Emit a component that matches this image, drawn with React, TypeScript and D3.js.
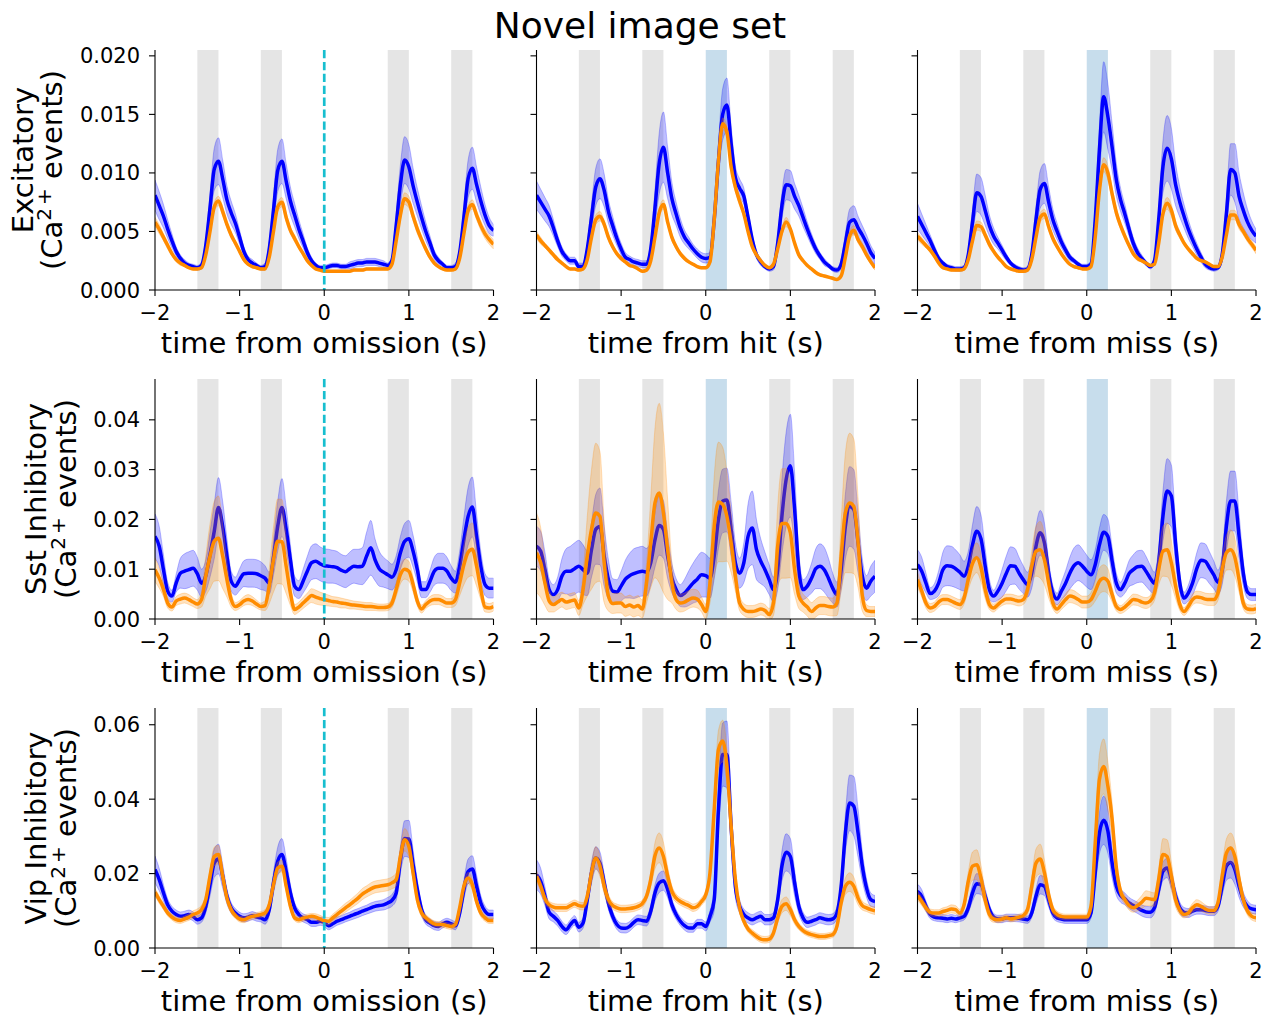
import React from 'react';
import * as d3 from 'd3';

// ---------- shared axes data ----------
const TIME: number[] = d3.range(81).map((i) => -2 + i * 0.05);
const X_TICKS = [-2, -1, 0, 1, 2];
const FLASH_STARTS = [-1.5, -0.75, 0.75, 1.5];
const CHANGE_WINDOW = [0, 0.25];
const ROW_LABELS = ['Excitatory', 'Sst Inhibitory', 'Vip Inhibitory'];
const COL_LABELS = ['time from omission (s)', 'time from hit (s)', 'time from miss (s)'];
const Y_TICKS = [
  [0, 0.005, 0.01, 0.015, 0.02],
  [0, 0.01, 0.02, 0.03, 0.04],
  [0, 0.02, 0.04, 0.06],
];
const Y_DECIMALS = [3, 2, 2];
const Y_MAX = [0.0205, 0.0482, 0.0645];
const TITLE = 'Novel image set';

// ---------- Excitatory ----------
const EXC_OMI_B = [
  0.0081, 0.0072, 0.0063, 0.0052, 0.0042, 0.0033, 0.0027, 0.0023, 0.0021, 0.0020,
  0.0019, 0.0021, 0.0038, 0.0070, 0.0103, 0.0110, 0.0095, 0.0077, 0.0066, 0.0057,
  0.0045, 0.0033, 0.0026, 0.0023, 0.0021, 0.0019, 0.0020, 0.0035, 0.0068, 0.0102,
  0.0110, 0.0093, 0.0076, 0.0064, 0.0052, 0.0042, 0.0032, 0.0025, 0.0021, 0.0019,
  0.0019, 0.0020, 0.0021, 0.0021, 0.0020, 0.0020, 0.0021, 0.0022, 0.0023, 0.0023,
  0.0024, 0.0024, 0.0024, 0.0023, 0.0022, 0.0021, 0.0025, 0.0055, 0.0090, 0.0111,
  0.0105, 0.0089, 0.0075, 0.0062, 0.0050, 0.0040, 0.0030, 0.0025, 0.0022, 0.0019,
  0.0019, 0.0020, 0.0032, 0.0062, 0.0095, 0.0104, 0.0090, 0.0076, 0.0064, 0.0055,
  0.0051,
];
const EXC_OMI_B_SEM = [
  0.0013, 0.0012, 0.0010, 0.0008, 0.0006, 0.0004, 0.0003, 0.0003, 0.0002, 0.0002,
  0.0002, 0.0003, 0.0006, 0.0012, 0.0018, 0.0020, 0.0016, 0.0012, 0.0010, 0.0008,
  0.0006, 0.0004, 0.0003, 0.0003, 0.0002, 0.0002, 0.0003, 0.0006, 0.0012, 0.0018,
  0.0019, 0.0015, 0.0012, 0.0010, 0.0008, 0.0006, 0.0004, 0.0003, 0.0002, 0.0002,
  0.0002, 0.0002, 0.0002, 0.0002, 0.0002, 0.0002, 0.0003, 0.0003, 0.0003, 0.0003,
  0.0003, 0.0003, 0.0003, 0.0003, 0.0003, 0.0002, 0.0004, 0.0010, 0.0017, 0.0020,
  0.0019, 0.0015, 0.0012, 0.0010, 0.0008, 0.0006, 0.0004, 0.0003, 0.0002, 0.0002,
  0.0002, 0.0003, 0.0005, 0.0010, 0.0016, 0.0018, 0.0015, 0.0012, 0.0009, 0.0007,
  0.0005,
];
const EXC_OMI_O = [
  0.0058, 0.0052, 0.0045, 0.0038, 0.0031, 0.0026, 0.0023, 0.0021, 0.0019, 0.0018,
  0.0018, 0.0019, 0.0030, 0.0050, 0.0071, 0.0076, 0.0067, 0.0056, 0.0047, 0.0040,
  0.0033, 0.0026, 0.0022, 0.0020, 0.0019, 0.0018, 0.0018, 0.0028, 0.0050, 0.0071,
  0.0075, 0.0062, 0.0051, 0.0044, 0.0037, 0.0031, 0.0025, 0.0021, 0.0018, 0.0017,
  0.0016, 0.0016, 0.0016, 0.0016, 0.0016, 0.0016, 0.0016, 0.0017, 0.0017, 0.0017,
  0.0018, 0.0018, 0.0018, 0.0018, 0.0018, 0.0018, 0.0022, 0.0042, 0.0064, 0.0078,
  0.0075, 0.0063, 0.0052, 0.0043, 0.0035, 0.0028, 0.0023, 0.0020, 0.0018, 0.0017,
  0.0017, 0.0018, 0.0027, 0.0048, 0.0068, 0.0073, 0.0064, 0.0055, 0.0048, 0.0043,
  0.0039,
];
const EXC_OMI_O_SEM = [
  0.0004, 0.0004, 0.0003, 0.0003, 0.0002, 0.0002, 0.0002, 0.0001, 0.0001, 0.0001,
  0.0001, 0.0001, 0.0002, 0.0003, 0.0004, 0.0004, 0.0004, 0.0003, 0.0003, 0.0002,
  0.0002, 0.0002, 0.0001, 0.0001, 0.0001, 0.0001, 0.0001, 0.0002, 0.0003, 0.0004,
  0.0004, 0.0004, 0.0003, 0.0003, 0.0002, 0.0002, 0.0002, 0.0001, 0.0001, 0.0001,
  0.0001, 0.0001, 0.0001, 0.0001, 0.0001, 0.0001, 0.0001, 0.0001, 0.0001, 0.0001,
  0.0001, 0.0001, 0.0001, 0.0001, 0.0001, 0.0001, 0.0002, 0.0003, 0.0004, 0.0005,
  0.0005, 0.0004, 0.0004, 0.0003, 0.0003, 0.0002, 0.0002, 0.0001, 0.0001, 0.0001,
  0.0001, 0.0001, 0.0002, 0.0003, 0.0004, 0.0004, 0.0004, 0.0004, 0.0004, 0.0004,
  0.0004,
];
const EXC_HIT_B = [
  0.0081, 0.0075, 0.0069, 0.0063, 0.0053, 0.0042, 0.0033, 0.0028, 0.0025, 0.0025,
  0.0020, 0.0020, 0.0035, 0.0062, 0.0088, 0.0095, 0.0085, 0.0067, 0.0055, 0.0044,
  0.0035, 0.0028, 0.0026, 0.0024, 0.0023, 0.0022, 0.0022, 0.0035, 0.0070, 0.0108,
  0.0122, 0.0100, 0.0078, 0.0065, 0.0053, 0.0045, 0.0040, 0.0035, 0.0031, 0.0028,
  0.0027, 0.0028, 0.0060, 0.0110, 0.0150, 0.0158, 0.0125, 0.0096, 0.0087, 0.0080,
  0.0062, 0.0043, 0.0030, 0.0024, 0.0020, 0.0018, 0.0020, 0.0040, 0.0072, 0.0090,
  0.0089, 0.0080, 0.0072, 0.0062, 0.0052, 0.0043, 0.0035, 0.0029, 0.0024, 0.0021,
  0.0018, 0.0017, 0.0022, 0.0040, 0.0058, 0.0060, 0.0053, 0.0047, 0.0040, 0.0032,
  0.0027,
];
const EXC_HIT_B_SEM = [
  0.0012, 0.0011, 0.0010, 0.0009, 0.0007, 0.0005, 0.0004, 0.0003, 0.0003, 0.0003,
  0.0003, 0.0003, 0.0006, 0.0011, 0.0016, 0.0017, 0.0014, 0.0010, 0.0008, 0.0006,
  0.0005, 0.0004, 0.0003, 0.0003, 0.0003, 0.0003, 0.0003, 0.0006, 0.0015, 0.0026,
  0.0030, 0.0022, 0.0014, 0.0010, 0.0008, 0.0006, 0.0005, 0.0004, 0.0004, 0.0004,
  0.0004, 0.0004, 0.0008, 0.0015, 0.0022, 0.0023, 0.0015, 0.0010, 0.0008, 0.0007,
  0.0005, 0.0004, 0.0003, 0.0003, 0.0002, 0.0002, 0.0003, 0.0006, 0.0011, 0.0013,
  0.0013, 0.0011, 0.0009, 0.0008, 0.0006, 0.0005, 0.0004, 0.0003, 0.0003, 0.0002,
  0.0002, 0.0002, 0.0004, 0.0008, 0.0011, 0.0012, 0.0010, 0.0008, 0.0007, 0.0006,
  0.0005,
];
const EXC_HIT_O = [
  0.0047, 0.0042, 0.0038, 0.0034, 0.0030, 0.0026, 0.0023, 0.0020, 0.0018, 0.0018,
  0.0017, 0.0018, 0.0026, 0.0045, 0.0060, 0.0063, 0.0056, 0.0045, 0.0037, 0.0031,
  0.0027, 0.0024, 0.0021, 0.0020, 0.0018, 0.0016, 0.0017, 0.0025, 0.0045, 0.0066,
  0.0073, 0.0058, 0.0045, 0.0037, 0.0031, 0.0027, 0.0024, 0.0022, 0.0020, 0.0019,
  0.0019, 0.0024, 0.0060, 0.0110, 0.0142, 0.0135, 0.0105, 0.0088, 0.0076, 0.0065,
  0.0050, 0.0037, 0.0030, 0.0025, 0.0021, 0.0019, 0.0022, 0.0035, 0.0050, 0.0058,
  0.0052, 0.0040, 0.0030, 0.0025, 0.0021, 0.0018, 0.0015, 0.0013, 0.0012, 0.0011,
  0.0010, 0.0009, 0.0012, 0.0028, 0.0046, 0.0051, 0.0043, 0.0037, 0.0030, 0.0024,
  0.0019,
];
const EXC_HIT_O_SEM = [
  0.0003, 0.0003, 0.0002, 0.0002, 0.0002, 0.0002, 0.0001, 0.0001, 0.0001, 0.0001,
  0.0001, 0.0001, 0.0002, 0.0003, 0.0004, 0.0004, 0.0003, 0.0003, 0.0002, 0.0002,
  0.0002, 0.0001, 0.0001, 0.0001, 0.0001, 0.0001, 0.0001, 0.0002, 0.0003, 0.0004,
  0.0004, 0.0003, 0.0003, 0.0002, 0.0002, 0.0002, 0.0001, 0.0001, 0.0001, 0.0001,
  0.0001, 0.0002, 0.0003, 0.0004, 0.0005, 0.0005, 0.0005, 0.0004, 0.0004, 0.0003,
  0.0003, 0.0002, 0.0002, 0.0001, 0.0001, 0.0001, 0.0001, 0.0002, 0.0003, 0.0004,
  0.0003, 0.0002, 0.0002, 0.0001, 0.0001, 0.0001, 0.0001, 0.0001, 0.0001, 0.0001,
  0.0001, 0.0001, 0.0002, 0.0003, 0.0004, 0.0004, 0.0003, 0.0003, 0.0002, 0.0002,
  0.0002,
];
const EXC_MISS_B = [
  0.0063, 0.0056, 0.0049, 0.0042, 0.0034, 0.0027, 0.0023, 0.0020, 0.0019, 0.0018,
  0.0018, 0.0019, 0.0030, 0.0058, 0.0083, 0.0080, 0.0068, 0.0055, 0.0046, 0.0040,
  0.0034, 0.0028, 0.0023, 0.0020, 0.0018, 0.0017, 0.0018, 0.0030, 0.0060, 0.0086,
  0.0091, 0.0075, 0.0060, 0.0050, 0.0041, 0.0034, 0.0028, 0.0025, 0.0022, 0.0020,
  0.0020, 0.0022, 0.0060, 0.0120, 0.0165, 0.0148, 0.0122, 0.0094, 0.0077, 0.0065,
  0.0052, 0.0040, 0.0032, 0.0027, 0.0023, 0.0020, 0.0025, 0.0060, 0.0105, 0.0121,
  0.0112, 0.0090, 0.0075, 0.0063, 0.0052, 0.0043, 0.0035, 0.0028, 0.0022, 0.0019,
  0.0018, 0.0019, 0.0030, 0.0065, 0.0103, 0.0100, 0.0080, 0.0068, 0.0058, 0.0051,
  0.0046,
];
const EXC_MISS_B_SEM = [
  0.0011, 0.0009, 0.0007, 0.0005, 0.0004, 0.0003, 0.0002, 0.0002, 0.0002, 0.0002,
  0.0002, 0.0002, 0.0005, 0.0011, 0.0016, 0.0016, 0.0013, 0.0009, 0.0007, 0.0005,
  0.0004, 0.0003, 0.0002, 0.0002, 0.0002, 0.0002, 0.0002, 0.0005, 0.0011, 0.0016,
  0.0017, 0.0013, 0.0009, 0.0007, 0.0005, 0.0004, 0.0003, 0.0002, 0.0002, 0.0002,
  0.0002, 0.0003, 0.0010, 0.0020, 0.0030, 0.0028, 0.0020, 0.0014, 0.0010, 0.0008,
  0.0006, 0.0005, 0.0004, 0.0003, 0.0002, 0.0002, 0.0003, 0.0010, 0.0022, 0.0028,
  0.0026, 0.0018, 0.0013, 0.0010, 0.0008, 0.0006, 0.0005, 0.0004, 0.0003, 0.0002,
  0.0002, 0.0002, 0.0005, 0.0012, 0.0022, 0.0025, 0.0020, 0.0015, 0.0011, 0.0008,
  0.0006,
];
const EXC_MISS_O = [
  0.0046, 0.0042, 0.0038, 0.0034, 0.0029, 0.0023, 0.0019, 0.0018, 0.0017, 0.0017,
  0.0017, 0.0018, 0.0026, 0.0042, 0.0055, 0.0054, 0.0047, 0.0039, 0.0033, 0.0028,
  0.0024, 0.0020, 0.0018, 0.0017, 0.0016, 0.0016, 0.0017, 0.0026, 0.0045, 0.0062,
  0.0065, 0.0054, 0.0044, 0.0037, 0.0031, 0.0026, 0.0022, 0.0020, 0.0019, 0.0018,
  0.0018, 0.0020, 0.0045, 0.0085, 0.0107, 0.0100, 0.0082, 0.0066, 0.0055, 0.0046,
  0.0038, 0.0031, 0.0027, 0.0025, 0.0023, 0.0021, 0.0022, 0.0040, 0.0065, 0.0074,
  0.0068, 0.0055, 0.0047, 0.0040, 0.0035, 0.0031, 0.0027, 0.0025, 0.0024, 0.0022,
  0.0020, 0.0020, 0.0028, 0.0047, 0.0064, 0.0064, 0.0056, 0.0050, 0.0044, 0.0039,
  0.0034,
];
const EXC_MISS_O_SEM = [
  0.0003, 0.0003, 0.0002, 0.0002, 0.0002, 0.0001, 0.0001, 0.0001, 0.0001, 0.0001,
  0.0001, 0.0001, 0.0002, 0.0003, 0.0004, 0.0004, 0.0003, 0.0003, 0.0002, 0.0002,
  0.0001, 0.0001, 0.0001, 0.0001, 0.0001, 0.0001, 0.0001, 0.0002, 0.0003, 0.0004,
  0.0004, 0.0003, 0.0003, 0.0002, 0.0002, 0.0001, 0.0001, 0.0001, 0.0001, 0.0001,
  0.0001, 0.0002, 0.0004, 0.0005, 0.0006, 0.0006, 0.0005, 0.0004, 0.0003, 0.0003,
  0.0002, 0.0002, 0.0002, 0.0001, 0.0001, 0.0001, 0.0001, 0.0002, 0.0004, 0.0005,
  0.0005, 0.0004, 0.0003, 0.0002, 0.0002, 0.0002, 0.0001, 0.0001, 0.0001, 0.0001,
  0.0001, 0.0001, 0.0002, 0.0003, 0.0004, 0.0004, 0.0004, 0.0003, 0.0003, 0.0003,
  0.0003,
];

// ---------- Sst ----------
const SST_OMI_B = [
  0.0166, 0.0146, 0.0099, 0.0056, 0.0046, 0.0072, 0.0092, 0.0096, 0.0099, 0.0102,
  0.0091, 0.0072, 0.0087, 0.0129, 0.0176, 0.0224, 0.0186, 0.0126, 0.0076, 0.0066,
  0.0079, 0.0091, 0.0092, 0.0092, 0.0091, 0.0087, 0.0082, 0.0072, 0.0123, 0.0186,
  0.0224, 0.0180, 0.0119, 0.0066, 0.0059, 0.0076, 0.0096, 0.0113, 0.0116, 0.0111,
  0.0107, 0.0106, 0.0105, 0.0103, 0.0098, 0.0095, 0.0101, 0.0106, 0.0105, 0.0106,
  0.0126, 0.0143, 0.0119, 0.0101, 0.0094, 0.0089, 0.0084, 0.0099, 0.0133, 0.0156,
  0.0161, 0.0136, 0.0099, 0.0059, 0.0059, 0.0076, 0.0096, 0.0102, 0.0102, 0.0096,
  0.0082, 0.0074, 0.0106, 0.0159, 0.0206, 0.0225, 0.0166, 0.0106, 0.0069, 0.0062,
  0.0062,
];
const SST_OMI_B_SEM = [
  0.0045, 0.0040, 0.0030, 0.0018, 0.0012, 0.0018, 0.0030, 0.0035, 0.0036, 0.0036,
  0.0033, 0.0028, 0.0032, 0.0045, 0.0055, 0.0060, 0.0050, 0.0035, 0.0020, 0.0018,
  0.0022, 0.0026, 0.0028, 0.0028, 0.0028, 0.0028, 0.0025, 0.0022, 0.0035, 0.0050,
  0.0058, 0.0045, 0.0030, 0.0020, 0.0018, 0.0024, 0.0030, 0.0034, 0.0035, 0.0034,
  0.0034, 0.0034, 0.0033, 0.0033, 0.0032, 0.0032, 0.0033, 0.0034, 0.0035, 0.0037,
  0.0048, 0.0055, 0.0042, 0.0035, 0.0030, 0.0028, 0.0026, 0.0028, 0.0033, 0.0036,
  0.0037, 0.0032, 0.0025, 0.0016, 0.0016, 0.0022, 0.0028, 0.0030, 0.0030, 0.0028,
  0.0025, 0.0022, 0.0030, 0.0045, 0.0058, 0.0060, 0.0045, 0.0030, 0.0022, 0.0020,
  0.0020,
];
const SST_OMI_O = [
  0.0099, 0.0082, 0.0059, 0.0032, 0.0024, 0.0036, 0.0040, 0.0042, 0.0039, 0.0034,
  0.0030, 0.0039, 0.0086, 0.0126, 0.0156, 0.0162, 0.0126, 0.0079, 0.0039, 0.0025,
  0.0029, 0.0036, 0.0039, 0.0036, 0.0030, 0.0025, 0.0027, 0.0066, 0.0119, 0.0156,
  0.0155, 0.0106, 0.0052, 0.0019, 0.0024, 0.0032, 0.0040, 0.0047, 0.0044, 0.0041,
  0.0039, 0.0037, 0.0035, 0.0034, 0.0032, 0.0031, 0.0029, 0.0028, 0.0027, 0.0026,
  0.0025, 0.0025, 0.0024, 0.0023, 0.0023, 0.0024, 0.0032, 0.0059, 0.0089, 0.0100,
  0.0096, 0.0069, 0.0036, 0.0020, 0.0029, 0.0036, 0.0039, 0.0039, 0.0036, 0.0032,
  0.0032, 0.0039, 0.0072, 0.0109, 0.0134, 0.0140, 0.0106, 0.0059, 0.0024, 0.0022,
  0.0025,
];
const SST_OMI_O_SEM = [
  0.0024, 0.0020, 0.0014, 0.0010, 0.0008, 0.0009, 0.0010, 0.0010, 0.0010, 0.0009,
  0.0009, 0.0015, 0.0040, 0.0065, 0.0080, 0.0085, 0.0065, 0.0035, 0.0015, 0.0008,
  0.0008, 0.0009, 0.0010, 0.0009, 0.0008, 0.0007, 0.0010, 0.0035, 0.0065, 0.0085,
  0.0085, 0.0055, 0.0025, 0.0010, 0.0010, 0.0011, 0.0012, 0.0014, 0.0014, 0.0013,
  0.0012, 0.0011, 0.0010, 0.0010, 0.0010, 0.0009, 0.0009, 0.0008, 0.0008, 0.0008,
  0.0008, 0.0008, 0.0007, 0.0007, 0.0007, 0.0007, 0.0009, 0.0014, 0.0018, 0.0020,
  0.0020, 0.0015, 0.0010, 0.0008, 0.0008, 0.0009, 0.0010, 0.0010, 0.0010, 0.0009,
  0.0009, 0.0012, 0.0025, 0.0040, 0.0050, 0.0053, 0.0040, 0.0020, 0.0010, 0.0009,
  0.0009,
];
const SST_HIT_B = [
  0.0146, 0.0136, 0.0099, 0.0059, 0.0049, 0.0059, 0.0086, 0.0096, 0.0096, 0.0101,
  0.0106, 0.0099, 0.0092, 0.0139, 0.0180, 0.0186, 0.0126, 0.0079, 0.0056, 0.0054,
  0.0066, 0.0080, 0.0087, 0.0091, 0.0094, 0.0096, 0.0094, 0.0113, 0.0159, 0.0188,
  0.0180, 0.0126, 0.0082, 0.0059, 0.0047, 0.0052, 0.0062, 0.0072, 0.0080, 0.0089,
  0.0087, 0.0082, 0.0126, 0.0200, 0.0237, 0.0239, 0.0180, 0.0113, 0.0092, 0.0113,
  0.0166, 0.0183, 0.0139, 0.0116, 0.0099, 0.0079, 0.0059, 0.0099, 0.0206, 0.0280,
  0.0308, 0.0220, 0.0099, 0.0059, 0.0066, 0.0082, 0.0101, 0.0106, 0.0099, 0.0082,
  0.0062, 0.0049, 0.0099, 0.0186, 0.0226, 0.0220, 0.0153, 0.0086, 0.0062, 0.0076,
  0.0086,
];
const SST_HIT_B_SEM = [
  0.0040, 0.0040, 0.0035, 0.0022, 0.0020, 0.0025, 0.0035, 0.0045, 0.0050, 0.0052,
  0.0052, 0.0050, 0.0045, 0.0055, 0.0070, 0.0077, 0.0060, 0.0040, 0.0025, 0.0025,
  0.0030, 0.0038, 0.0045, 0.0050, 0.0050, 0.0050, 0.0048, 0.0045, 0.0055, 0.0060,
  0.0058, 0.0045, 0.0030, 0.0022, 0.0022, 0.0028, 0.0035, 0.0040, 0.0045, 0.0045,
  0.0043, 0.0040, 0.0045, 0.0058, 0.0064, 0.0064, 0.0055, 0.0040, 0.0030, 0.0040,
  0.0065, 0.0074, 0.0060, 0.0045, 0.0035, 0.0030, 0.0025, 0.0040, 0.0075, 0.0095,
  0.0103, 0.0075, 0.0035, 0.0020, 0.0022, 0.0030, 0.0040, 0.0045, 0.0045, 0.0040,
  0.0030, 0.0025, 0.0040, 0.0065, 0.0080, 0.0080, 0.0060, 0.0035, 0.0025, 0.0030,
  0.0032,
];
const SST_HIT_O = [
  0.0133, 0.0113, 0.0072, 0.0036, 0.0029, 0.0034, 0.0039, 0.0034, 0.0036, 0.0038,
  0.0022, 0.0059, 0.0126, 0.0180, 0.0213, 0.0206, 0.0113, 0.0046, 0.0031, 0.0032,
  0.0032, 0.0025, 0.0028, 0.0024, 0.0027, 0.0020, 0.0072, 0.0153, 0.0233, 0.0253,
  0.0213, 0.0139, 0.0072, 0.0039, 0.0032, 0.0034, 0.0039, 0.0042, 0.0040, 0.0029,
  0.0015, 0.0072, 0.0186, 0.0235, 0.0230, 0.0206, 0.0153, 0.0086, 0.0032, 0.0019,
  0.0015, 0.0015, 0.0017, 0.0020, 0.0017, 0.0009, 0.0032, 0.0146, 0.0192, 0.0192,
  0.0173, 0.0099, 0.0046, 0.0032, 0.0024, 0.0015, 0.0022, 0.0027, 0.0027, 0.0025,
  0.0024, 0.0032, 0.0126, 0.0213, 0.0233, 0.0226, 0.0153, 0.0046, 0.0017, 0.0015,
  0.0015,
];
const SST_HIT_O_SEM = [
  0.0080, 0.0070, 0.0045, 0.0022, 0.0015, 0.0015, 0.0015, 0.0015, 0.0015, 0.0015,
  0.0015, 0.0030, 0.0080, 0.0120, 0.0140, 0.0130, 0.0080, 0.0030, 0.0020, 0.0020,
  0.0020, 0.0020, 0.0020, 0.0020, 0.0020, 0.0018, 0.0040, 0.0090, 0.0150, 0.0180,
  0.0160, 0.0100, 0.0040, 0.0020, 0.0018, 0.0018, 0.0018, 0.0018, 0.0018, 0.0015,
  0.0015, 0.0040, 0.0100, 0.0120, 0.0115, 0.0090, 0.0060, 0.0030, 0.0015, 0.0012,
  0.0012, 0.0012, 0.0012, 0.0012, 0.0012, 0.0012, 0.0025, 0.0080, 0.0110, 0.0110,
  0.0090, 0.0050, 0.0025, 0.0018, 0.0018, 0.0018, 0.0018, 0.0018, 0.0018, 0.0018,
  0.0018, 0.0025, 0.0070, 0.0120, 0.0140, 0.0135, 0.0090, 0.0030, 0.0012, 0.0010,
  0.0010,
];
const SST_MISS_B = [
  0.0109, 0.0096, 0.0072, 0.0051, 0.0056, 0.0072, 0.0099, 0.0107, 0.0106, 0.0101,
  0.0094, 0.0086, 0.0106, 0.0149, 0.0176, 0.0161, 0.0106, 0.0059, 0.0046, 0.0056,
  0.0072, 0.0092, 0.0107, 0.0106, 0.0092, 0.0079, 0.0069, 0.0092, 0.0146, 0.0173,
  0.0153, 0.0092, 0.0052, 0.0040, 0.0056, 0.0072, 0.0092, 0.0107, 0.0113, 0.0106,
  0.0096, 0.0089, 0.0109, 0.0149, 0.0174, 0.0166, 0.0116, 0.0072, 0.0059, 0.0072,
  0.0091, 0.0099, 0.0105, 0.0106, 0.0096, 0.0082, 0.0072, 0.0113, 0.0206, 0.0257,
  0.0247, 0.0151, 0.0072, 0.0042, 0.0052, 0.0072, 0.0101, 0.0118, 0.0116, 0.0103,
  0.0089, 0.0074, 0.0099, 0.0186, 0.0237, 0.0237, 0.0166, 0.0092, 0.0054, 0.0049,
  0.0049,
];
const SST_MISS_B_SEM = [
  0.0030, 0.0028, 0.0020, 0.0012, 0.0015, 0.0025, 0.0035, 0.0040, 0.0040, 0.0038,
  0.0035, 0.0030, 0.0030, 0.0040, 0.0050, 0.0048, 0.0035, 0.0020, 0.0012, 0.0018,
  0.0028, 0.0035, 0.0038, 0.0036, 0.0032, 0.0028, 0.0025, 0.0030, 0.0040, 0.0045,
  0.0040, 0.0025, 0.0015, 0.0012, 0.0018, 0.0025, 0.0032, 0.0036, 0.0036, 0.0034,
  0.0032, 0.0030, 0.0030, 0.0034, 0.0036, 0.0035, 0.0028, 0.0020, 0.0015, 0.0020,
  0.0026, 0.0030, 0.0032, 0.0032, 0.0030, 0.0026, 0.0022, 0.0030, 0.0050, 0.0065,
  0.0062, 0.0040, 0.0020, 0.0012, 0.0016, 0.0025, 0.0032, 0.0035, 0.0035, 0.0032,
  0.0028, 0.0024, 0.0030, 0.0050, 0.0060, 0.0060, 0.0045, 0.0025, 0.0013, 0.0012,
  0.0012,
];
const SST_MISS_O = [
  0.0079, 0.0056, 0.0032, 0.0022, 0.0025, 0.0034, 0.0039, 0.0039, 0.0036, 0.0032,
  0.0029, 0.0042, 0.0079, 0.0111, 0.0123, 0.0103, 0.0059, 0.0029, 0.0022, 0.0029,
  0.0036, 0.0040, 0.0040, 0.0038, 0.0036, 0.0039, 0.0059, 0.0106, 0.0136, 0.0139,
  0.0119, 0.0072, 0.0032, 0.0020, 0.0029, 0.0039, 0.0046, 0.0044, 0.0039, 0.0034,
  0.0034, 0.0039, 0.0056, 0.0076, 0.0082, 0.0076, 0.0049, 0.0025, 0.0019, 0.0024,
  0.0032, 0.0039, 0.0038, 0.0034, 0.0032, 0.0036, 0.0052, 0.0099, 0.0136, 0.0139,
  0.0113, 0.0066, 0.0029, 0.0015, 0.0025, 0.0039, 0.0044, 0.0043, 0.0040, 0.0039,
  0.0039, 0.0052, 0.0099, 0.0133, 0.0139, 0.0124, 0.0079, 0.0032, 0.0020, 0.0019,
  0.0021,
];
const SST_MISS_O_SEM = [
  0.0015, 0.0012, 0.0010, 0.0009, 0.0009, 0.0010, 0.0010, 0.0010, 0.0010, 0.0010,
  0.0010, 0.0012, 0.0020, 0.0028, 0.0030, 0.0028, 0.0018, 0.0010, 0.0008, 0.0008,
  0.0009, 0.0010, 0.0010, 0.0010, 0.0010, 0.0010, 0.0015, 0.0030, 0.0050, 0.0057,
  0.0050, 0.0030, 0.0012, 0.0009, 0.0010, 0.0012, 0.0013, 0.0013, 0.0012, 0.0012,
  0.0012, 0.0014, 0.0020, 0.0026, 0.0027, 0.0025, 0.0015, 0.0009, 0.0008, 0.0009,
  0.0010, 0.0011, 0.0011, 0.0011, 0.0011, 0.0011, 0.0015, 0.0030, 0.0050, 0.0054,
  0.0045, 0.0025, 0.0012, 0.0008, 0.0009, 0.0011, 0.0012, 0.0012, 0.0012, 0.0012,
  0.0012, 0.0015, 0.0025, 0.0035, 0.0040, 0.0038, 0.0025, 0.0012, 0.0009, 0.0009,
  0.0009,
];

// ---------- Vip ----------
const VIP_OMI_B = [
  0.0211, 0.0184, 0.0148, 0.0116, 0.0099, 0.0090, 0.0085, 0.0087, 0.0090, 0.0085,
  0.0076, 0.0081, 0.0112, 0.0170, 0.0228, 0.0239, 0.0193, 0.0139, 0.0108, 0.0094,
  0.0085, 0.0081, 0.0083, 0.0087, 0.0083, 0.0081, 0.0076, 0.0103, 0.0175, 0.0233,
  0.0251, 0.0206, 0.0148, 0.0108, 0.0090, 0.0081, 0.0076, 0.0069, 0.0069, 0.0072,
  0.0069, 0.0060, 0.0065, 0.0072, 0.0076, 0.0081, 0.0085, 0.0090, 0.0094, 0.0099,
  0.0103, 0.0108, 0.0112, 0.0114, 0.0116, 0.0121, 0.0128, 0.0148, 0.0237, 0.0294,
  0.0293, 0.0224, 0.0157, 0.0103, 0.0076, 0.0067, 0.0060, 0.0058, 0.0065, 0.0069,
  0.0065, 0.0060, 0.0094, 0.0157, 0.0206, 0.0212, 0.0166, 0.0121, 0.0099, 0.0090,
  0.0090,
];
const VIP_OMI_B_SEM = [
  0.0036, 0.0030, 0.0022, 0.0016, 0.0013, 0.0012, 0.0012, 0.0012, 0.0012, 0.0012,
  0.0012, 0.0012, 0.0018, 0.0030, 0.0038, 0.0040, 0.0032, 0.0020, 0.0014, 0.0012,
  0.0011, 0.0011, 0.0011, 0.0011, 0.0011, 0.0011, 0.0012, 0.0016, 0.0028, 0.0038,
  0.0043, 0.0035, 0.0022, 0.0014, 0.0012, 0.0011, 0.0011, 0.0011, 0.0011, 0.0011,
  0.0011, 0.0011, 0.0011, 0.0011, 0.0011, 0.0011, 0.0011, 0.0012, 0.0012, 0.0012,
  0.0012, 0.0013, 0.0013, 0.0013, 0.0014, 0.0015, 0.0016, 0.0020, 0.0035, 0.0048,
  0.0050, 0.0040, 0.0025, 0.0016, 0.0012, 0.0011, 0.0011, 0.0011, 0.0011, 0.0011,
  0.0011, 0.0011, 0.0015, 0.0025, 0.0033, 0.0036, 0.0030, 0.0020, 0.0014, 0.0012,
  0.0012,
];
const VIP_OMI_O = [
  0.0150, 0.0130, 0.0112, 0.0094, 0.0083, 0.0076, 0.0074, 0.0078, 0.0083, 0.0090,
  0.0094, 0.0103, 0.0130, 0.0193, 0.0246, 0.0251, 0.0193, 0.0134, 0.0103, 0.0087,
  0.0078, 0.0076, 0.0081, 0.0085, 0.0087, 0.0090, 0.0094, 0.0116, 0.0170, 0.0215,
  0.0220, 0.0166, 0.0112, 0.0081, 0.0076, 0.0080, 0.0083, 0.0085, 0.0083, 0.0078,
  0.0073, 0.0072, 0.0081, 0.0090, 0.0099, 0.0108, 0.0116, 0.0125, 0.0134, 0.0145,
  0.0152, 0.0159, 0.0164, 0.0166, 0.0168, 0.0170, 0.0175, 0.0184, 0.0246, 0.0291,
  0.0273, 0.0202, 0.0130, 0.0094, 0.0081, 0.0072, 0.0065, 0.0063, 0.0063, 0.0060,
  0.0058, 0.0063, 0.0108, 0.0166, 0.0188, 0.0170, 0.0125, 0.0094, 0.0081, 0.0074,
  0.0074,
];
const VIP_OMI_O_SEM = [
  0.0010, 0.0010, 0.0009, 0.0008, 0.0008, 0.0008, 0.0008, 0.0008, 0.0009, 0.0010,
  0.0011, 0.0012, 0.0014, 0.0020, 0.0025, 0.0025, 0.0020, 0.0014, 0.0010, 0.0008,
  0.0008, 0.0008, 0.0008, 0.0008, 0.0008, 0.0008, 0.0009, 0.0010, 0.0013, 0.0016,
  0.0016, 0.0013, 0.0010, 0.0008, 0.0008, 0.0008, 0.0008, 0.0008, 0.0009, 0.0010,
  0.0010, 0.0010, 0.0010, 0.0010, 0.0011, 0.0012, 0.0012, 0.0013, 0.0014, 0.0015,
  0.0015, 0.0016, 0.0016, 0.0016, 0.0016, 0.0016, 0.0016, 0.0018, 0.0025, 0.0030,
  0.0028, 0.0020, 0.0014, 0.0010, 0.0009, 0.0008, 0.0008, 0.0008, 0.0008, 0.0008,
  0.0008, 0.0008, 0.0010, 0.0013, 0.0015, 0.0015, 0.0012, 0.0010, 0.0009, 0.0008,
  0.0008,
];
const VIP_HIT_B = [
  0.0197, 0.0179, 0.0139, 0.0096, 0.0085, 0.0074, 0.0058, 0.0049, 0.0063, 0.0074,
  0.0056, 0.0067, 0.0130, 0.0202, 0.0242, 0.0228, 0.0175, 0.0121, 0.0085, 0.0063,
  0.0054, 0.0053, 0.0058, 0.0069, 0.0076, 0.0074, 0.0072, 0.0099, 0.0148, 0.0175,
  0.0181, 0.0157, 0.0116, 0.0090, 0.0072, 0.0060, 0.0054, 0.0054, 0.0065, 0.0065,
  0.0058, 0.0085, 0.0130, 0.0372, 0.0520, 0.0520, 0.0327, 0.0166, 0.0112, 0.0090,
  0.0081, 0.0076, 0.0081, 0.0085, 0.0076, 0.0076, 0.0081, 0.0130, 0.0220, 0.0257,
  0.0246, 0.0175, 0.0112, 0.0081, 0.0069, 0.0072, 0.0076, 0.0081, 0.0078, 0.0076,
  0.0078, 0.0094, 0.0166, 0.0309, 0.0390, 0.0381, 0.0309, 0.0220, 0.0161, 0.0130,
  0.0125,
];
const VIP_HIT_B_SEM = [
  0.0040, 0.0035, 0.0025, 0.0018, 0.0015, 0.0015, 0.0014, 0.0013, 0.0013, 0.0013,
  0.0013, 0.0014, 0.0020, 0.0028, 0.0030, 0.0030, 0.0025, 0.0018, 0.0014, 0.0013,
  0.0013, 0.0013, 0.0013, 0.0013, 0.0013, 0.0013, 0.0013, 0.0016, 0.0022, 0.0026,
  0.0026, 0.0022, 0.0016, 0.0013, 0.0012, 0.0012, 0.0012, 0.0012, 0.0012, 0.0012,
  0.0012, 0.0015, 0.0030, 0.0060, 0.0085, 0.0090, 0.0060, 0.0030, 0.0018, 0.0015,
  0.0014, 0.0014, 0.0014, 0.0014, 0.0014, 0.0014, 0.0014, 0.0020, 0.0040, 0.0050,
  0.0048, 0.0035, 0.0020, 0.0015, 0.0014, 0.0014, 0.0014, 0.0014, 0.0014, 0.0014,
  0.0014, 0.0016, 0.0025, 0.0050, 0.0075, 0.0080, 0.0065, 0.0040, 0.0025, 0.0018,
  0.0016,
];
const VIP_HIT_O = [
  0.0193, 0.0166, 0.0132, 0.0116, 0.0110, 0.0108, 0.0108, 0.0108, 0.0114, 0.0119,
  0.0114, 0.0112, 0.0139, 0.0202, 0.0242, 0.0220, 0.0166, 0.0130, 0.0114, 0.0108,
  0.0105, 0.0105, 0.0106, 0.0108, 0.0112, 0.0119, 0.0139, 0.0184, 0.0248, 0.0269,
  0.0246, 0.0193, 0.0152, 0.0134, 0.0125, 0.0119, 0.0114, 0.0108, 0.0112, 0.0125,
  0.0143, 0.0202, 0.0372, 0.0533, 0.0556, 0.0488, 0.0327, 0.0184, 0.0108, 0.0072,
  0.0051, 0.0040, 0.0031, 0.0024, 0.0022, 0.0024, 0.0040, 0.0081, 0.0112, 0.0119,
  0.0103, 0.0076, 0.0058, 0.0047, 0.0040, 0.0036, 0.0033, 0.0031, 0.0031, 0.0033,
  0.0036, 0.0058, 0.0121, 0.0166, 0.0177, 0.0166, 0.0134, 0.0114, 0.0108, 0.0103,
  0.0100,
];
const VIP_HIT_O_SEM = [
  0.0015, 0.0013, 0.0011, 0.0010, 0.0010, 0.0010, 0.0010, 0.0010, 0.0010, 0.0010,
  0.0010, 0.0010, 0.0015, 0.0025, 0.0030, 0.0028, 0.0020, 0.0014, 0.0010, 0.0010,
  0.0010, 0.0010, 0.0010, 0.0010, 0.0010, 0.0010, 0.0012, 0.0020, 0.0035, 0.0040,
  0.0038, 0.0025, 0.0015, 0.0011, 0.0010, 0.0010, 0.0010, 0.0010, 0.0010, 0.0010,
  0.0012, 0.0020, 0.0035, 0.0052, 0.0056, 0.0050, 0.0035, 0.0020, 0.0012, 0.0010,
  0.0009, 0.0009, 0.0009, 0.0009, 0.0009, 0.0009, 0.0010, 0.0014, 0.0018, 0.0018,
  0.0016, 0.0012, 0.0009, 0.0008, 0.0008, 0.0008, 0.0008, 0.0008, 0.0008, 0.0008,
  0.0008, 0.0010, 0.0015, 0.0022, 0.0025, 0.0024, 0.0018, 0.0012, 0.0010, 0.0010,
  0.0010,
];
const VIP_MISS_B = [
  0.0152, 0.0139, 0.0112, 0.0090, 0.0083, 0.0081, 0.0080, 0.0078, 0.0080, 0.0078,
  0.0081, 0.0085, 0.0108, 0.0148, 0.0173, 0.0170, 0.0139, 0.0103, 0.0083, 0.0078,
  0.0078, 0.0081, 0.0081, 0.0081, 0.0080, 0.0078, 0.0076, 0.0094, 0.0139, 0.0170,
  0.0166, 0.0130, 0.0094, 0.0081, 0.0078, 0.0076, 0.0076, 0.0076, 0.0076, 0.0076,
  0.0076, 0.0094, 0.0202, 0.0309, 0.0343, 0.0314, 0.0228, 0.0166, 0.0141, 0.0132,
  0.0121, 0.0114, 0.0108, 0.0101, 0.0097, 0.0096, 0.0108, 0.0157, 0.0206, 0.0215,
  0.0184, 0.0139, 0.0108, 0.0096, 0.0094, 0.0099, 0.0103, 0.0103, 0.0101, 0.0099,
  0.0099, 0.0112, 0.0166, 0.0220, 0.0230, 0.0211, 0.0166, 0.0130, 0.0112, 0.0105,
  0.0103,
];
const VIP_MISS_B_SEM = [
  0.0020, 0.0018, 0.0014, 0.0011, 0.0010, 0.0010, 0.0010, 0.0010, 0.0010, 0.0010,
  0.0010, 0.0010, 0.0014, 0.0022, 0.0027, 0.0026, 0.0020, 0.0014, 0.0010, 0.0010,
  0.0010, 0.0010, 0.0010, 0.0010, 0.0010, 0.0010, 0.0010, 0.0012, 0.0020, 0.0025,
  0.0025, 0.0020, 0.0013, 0.0010, 0.0010, 0.0010, 0.0010, 0.0010, 0.0010, 0.0010,
  0.0010, 0.0014, 0.0035, 0.0055, 0.0065, 0.0060, 0.0040, 0.0025, 0.0018, 0.0016,
  0.0015, 0.0015, 0.0015, 0.0015, 0.0015, 0.0015, 0.0015, 0.0020, 0.0025, 0.0026,
  0.0025, 0.0020, 0.0015, 0.0013, 0.0012, 0.0012, 0.0012, 0.0012, 0.0012, 0.0012,
  0.0012, 0.0014, 0.0025, 0.0038, 0.0042, 0.0040, 0.0030, 0.0020, 0.0015, 0.0012,
  0.0012,
];
const VIP_MISS_O = [
  0.0141, 0.0125, 0.0108, 0.0096, 0.0094, 0.0094, 0.0098, 0.0101, 0.0105, 0.0103,
  0.0094, 0.0116, 0.0179, 0.0220, 0.0224, 0.0188, 0.0130, 0.0090, 0.0078, 0.0076,
  0.0078, 0.0081, 0.0078, 0.0080, 0.0083, 0.0087, 0.0103, 0.0166, 0.0228, 0.0239,
  0.0202, 0.0143, 0.0103, 0.0090, 0.0085, 0.0083, 0.0083, 0.0083, 0.0083, 0.0083,
  0.0083, 0.0112, 0.0282, 0.0453, 0.0488, 0.0435, 0.0345, 0.0215, 0.0152, 0.0130,
  0.0114, 0.0108, 0.0114, 0.0123, 0.0134, 0.0132, 0.0130, 0.0184, 0.0251, 0.0246,
  0.0193, 0.0130, 0.0101, 0.0090, 0.0094, 0.0108, 0.0116, 0.0112, 0.0105, 0.0101,
  0.0101, 0.0121, 0.0193, 0.0255, 0.0269, 0.0246, 0.0184, 0.0130, 0.0099, 0.0085,
  0.0081,
];
const VIP_MISS_O_SEM = [
  0.0012, 0.0011, 0.0010, 0.0009, 0.0009, 0.0009, 0.0010, 0.0010, 0.0011, 0.0011,
  0.0010, 0.0012, 0.0025, 0.0038, 0.0040, 0.0035, 0.0020, 0.0012, 0.0009, 0.0008,
  0.0008, 0.0008, 0.0008, 0.0008, 0.0008, 0.0009, 0.0012, 0.0025, 0.0038, 0.0040,
  0.0035, 0.0020, 0.0012, 0.0009, 0.0008, 0.0008, 0.0008, 0.0008, 0.0008, 0.0008,
  0.0008, 0.0015, 0.0040, 0.0068, 0.0074, 0.0065, 0.0045, 0.0025, 0.0015, 0.0012,
  0.0012, 0.0012, 0.0014, 0.0018, 0.0020, 0.0019, 0.0018, 0.0028, 0.0043, 0.0045,
  0.0038, 0.0020, 0.0012, 0.0009, 0.0010, 0.0012, 0.0014, 0.0013, 0.0011, 0.0010,
  0.0010, 0.0012, 0.0025, 0.0038, 0.0040, 0.0038, 0.0025, 0.0015, 0.0011, 0.0010,
  0.0010,
];

// ---------- panel grid (rows: cell type, cols: event) ----------
type Series = { b: number[]; bs: number[]; o: number[]; os: number[] };
const PANELS: Series[][] = [
  [
    { b: EXC_OMI_B, bs: EXC_OMI_B_SEM, o: EXC_OMI_O, os: EXC_OMI_O_SEM },
    { b: EXC_HIT_B, bs: EXC_HIT_B_SEM, o: EXC_HIT_O, os: EXC_HIT_O_SEM },
    { b: EXC_MISS_B, bs: EXC_MISS_B_SEM, o: EXC_MISS_O, os: EXC_MISS_O_SEM },
  ],
  [
    { b: SST_OMI_B, bs: SST_OMI_B_SEM, o: SST_OMI_O, os: SST_OMI_O_SEM },
    { b: SST_HIT_B, bs: SST_HIT_B_SEM, o: SST_HIT_O, os: SST_HIT_O_SEM },
    { b: SST_MISS_B, bs: SST_MISS_B_SEM, o: SST_MISS_O, os: SST_MISS_O_SEM },
  ],
  [
    { b: VIP_OMI_B, bs: VIP_OMI_B_SEM, o: VIP_OMI_O, os: VIP_OMI_O_SEM },
    { b: VIP_HIT_B, bs: VIP_HIT_B_SEM, o: VIP_HIT_O, os: VIP_HIT_O_SEM },
    { b: VIP_MISS_B, bs: VIP_MISS_B_SEM, o: VIP_MISS_O, os: VIP_MISS_O_SEM },
  ],
];

// ---------- layout ----------
const W = 1266;
const H = 1018;
const COL_LEFT = [155, 536.5, 917.5];
const PANEL_W = 338.5;
const ROW_TOP = [50, 379, 708];
const PANEL_H = 240;
const FONT = "'DejaVu Sans', sans-serif";
const BLUE = '#0000ff';
const ORANGE = '#ff8c00';
const TICK_FS = 21;
const LABEL_FS = 29;

const fmtTick = (v: number) => (v < 0 ? '\u2212' + Math.abs(v) : String(v));

function Panel({ r, c }: { r: number; c: number }) {
  const d = PANELS[r][c];
  const left = COL_LEFT[c];
  const top = ROW_TOP[r];
  const x = d3.scaleLinear().domain([-2, 2]).range([left, left + PANEL_W]);
  const y = d3.scaleLinear().domain([0, Y_MAX[r]]).range([top + PANEL_H, top]);
  const line = d3
    .line<number>()
    .x((_, i) => x(TIME[i]))
    .y((v) => y(v))
    .curve(d3.curveMonotoneX);
  const band = (m: number[], s: number[]) =>
    d3
      .area<number>()
      .x((_, i) => x(TIME[i]))
      .y0((v, i) => y(v - s[i]))
      .y1((v, i) => y(v + s[i]))
      .curve(d3.curveMonotoneX)(m) || '';
  const clipId = `clip-${r}-${c}`;
  const fmtY = (v: number) => v.toFixed(Y_DECIMALS[r]);
  return (
    <g>
      <defs>
        <clipPath id={clipId}>
          <rect x={left} y={top} width={PANEL_W} height={PANEL_H} />
        </clipPath>
      </defs>
      {FLASH_STARTS.map((s) => (
        <rect key={s} x={x(s)} y={top} width={x(s + 0.25) - x(s)} height={PANEL_H} fill="#000" fillOpacity={0.1} />
      ))}
      {c > 0 && (
        <rect
          x={x(CHANGE_WINDOW[0])}
          y={top}
          width={x(CHANGE_WINDOW[1]) - x(CHANGE_WINDOW[0])}
          height={PANEL_H}
          fill="#1f77b4"
          fillOpacity={0.25}
        />
      )}
      <g clipPath={`url(#${clipId})`}>
        <path d={line(d.b) || ''} fill="none" stroke={BLUE} strokeWidth={3.5} strokeLinejoin="round" />
        <path d={band(d.b, d.bs)} fill={BLUE} fillOpacity={0.25} stroke={BLUE} strokeOpacity={0.25} strokeWidth={1} />
        <path d={line(d.o) || ''} fill="none" stroke={ORANGE} strokeWidth={3.5} strokeLinejoin="round" />
        <path d={band(d.o, d.os)} fill={ORANGE} fillOpacity={0.25} stroke={ORANGE} strokeOpacity={0.25} strokeWidth={1} />
      </g>
      {c === 0 && (
        <line x1={x(0)} x2={x(0)} y1={top} y2={top + PANEL_H} stroke="#17becf" strokeWidth={2.7} strokeDasharray="8.3,3.6" />
      )}
      {/* spines */}
      <line x1={left} x2={left} y1={top} y2={top + PANEL_H} stroke="#000" strokeWidth={1.1} />
      <line x1={left} x2={left + PANEL_W} y1={top + PANEL_H} y2={top + PANEL_H} stroke="#000" strokeWidth={1.1} />
      {/* y ticks */}
      {Y_TICKS[r].map((t) => (
        <g key={t}>
          <line x1={left - 6} x2={left} y1={y(t)} y2={y(t)} stroke="#000" strokeWidth={1.1} />
          {c === 0 && (
            <text x={left - 15} y={y(t)} dy="0.36em" textAnchor="end" fontSize={TICK_FS} fontFamily={FONT}>
              {fmtY(t)}
            </text>
          )}
        </g>
      ))}
      {/* x ticks */}
      {X_TICKS.map((t) => (
        <g key={t}>
          <line x1={x(t)} x2={x(t)} y1={top + PANEL_H} y2={top + PANEL_H + 6} stroke="#000" strokeWidth={1.1} />
          <text x={x(t)} y={top + PANEL_H + 30} textAnchor="middle" fontSize={TICK_FS} fontFamily={FONT}>
            {fmtTick(t)}
          </text>
        </g>
      ))}
      <text x={left + PANEL_W / 2} y={top + PANEL_H + 63} textAnchor="middle" fontSize={LABEL_FS} fontFamily={FONT}>
        {COL_LABELS[c]}
      </text>
    </g>
  );
}

const YLAB_X1 = [33, 46, 46];
const YLAB_X2 = [62, 76, 76];
const YLAB_SHIFT1 = [-10, 0, 0];

function RowLabel({ r }: { r: number }) {
  const cy = ROW_TOP[r] + PANEL_H / 2;
  return (
    <g fontFamily={FONT} fontSize={LABEL_FS}>
      <text transform={`translate(${YLAB_X1[r]},${cy + YLAB_SHIFT1[r]}) rotate(-90)`} textAnchor="middle">
        {ROW_LABELS[r]}
      </text>
      <text transform={`translate(${YLAB_X2[r]},${cy}) rotate(-90)`} textAnchor="middle">
        (Ca
        <tspan dy={-11} fontSize={20}>2</tspan>
        <tspan dx={3} fontSize={20}>+</tspan>
        <tspan dy={11}>{'  events)'}</tspan>
      </text>
    </g>
  );
}

export default function App() {
  return (
    <svg
      width={W}
      height={H}
      viewBox={`0 0 ${W} ${H}`}
      style={{ position: 'absolute', left: 0, top: 0, background: '#fff' }}
    >
      <rect width={W} height={H} fill="#fff" />
      <text x={640} y={38} textAnchor="middle" fontSize={36} fontFamily={FONT}>
        {TITLE}
      </text>
      {[0, 1, 2].map((r) => (
        <g key={r}>
          <RowLabel r={r} />
          {[0, 1, 2].map((c) => (
            <Panel key={c} r={r} c={c} />
          ))}
        </g>
      ))}
    </svg>
  );
}
